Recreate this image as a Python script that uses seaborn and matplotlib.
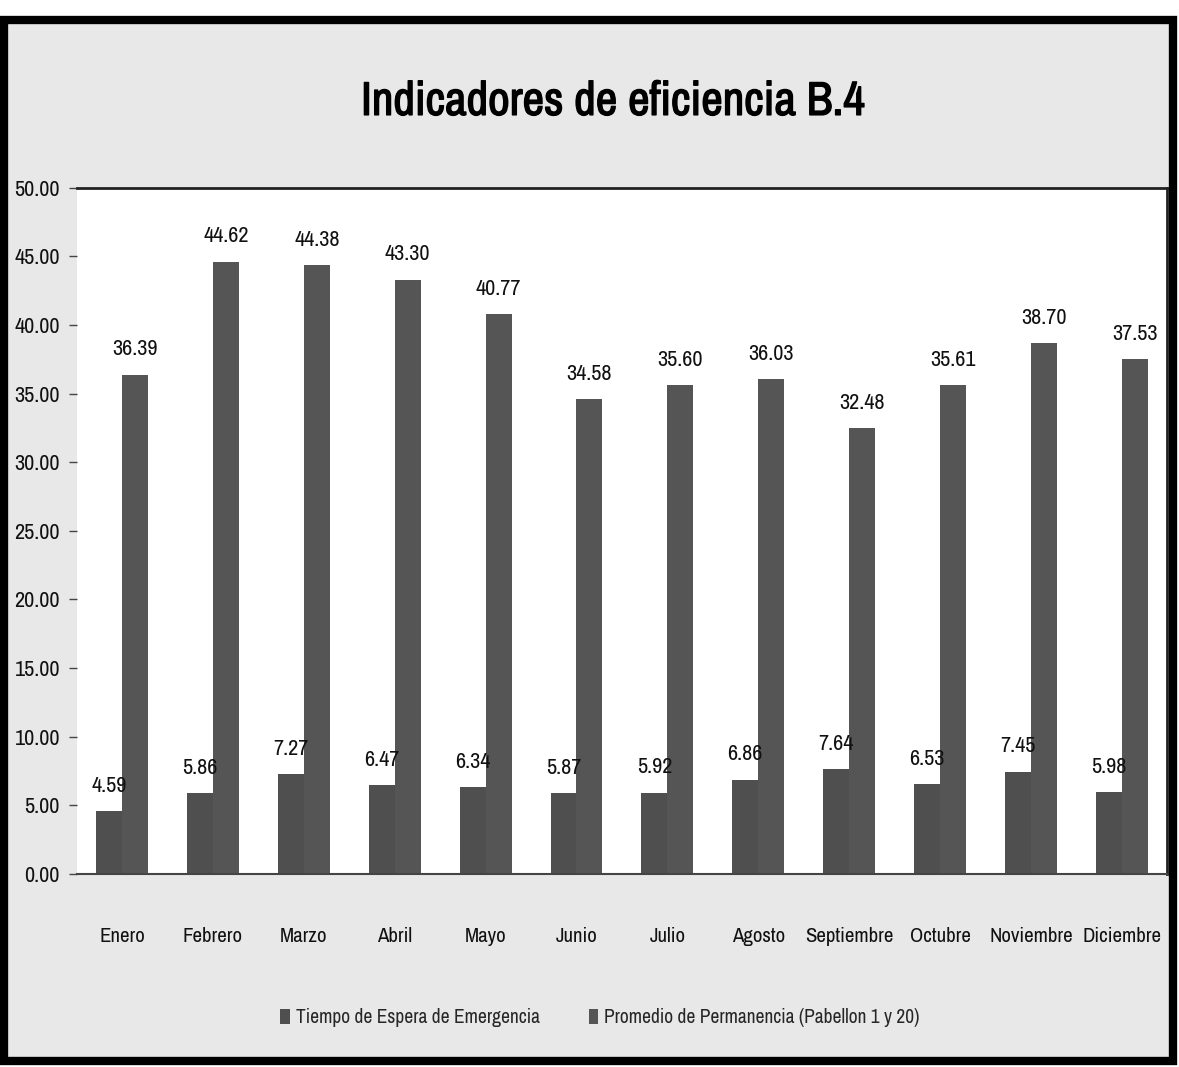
import numpy as np
import pandas as pd
import matplotlib
matplotlib.use("Agg")
import matplotlib.pyplot as plt
import matplotlib.patches as mpatches
import matplotlib.patheffects as pe
from matplotlib import font_manager
import seaborn as sns

meses = ["Enero", "Febrero", "Marzo", "Abril", "Mayo", "Junio", "Julio",
         "Agosto", "Septiembre", "Octubre", "Noviembre", "Diciembre"]
espera = [4.59, 5.86, 7.27, 6.47, 6.34, 5.87, 5.92, 6.86, 7.64, 6.53, 7.45, 5.98]
permanencia = [36.39, 44.62, 44.38, 43.30, 40.77, 34.58, 35.60, 36.03, 32.48, 35.61, 38.70, 37.53]
serie1 = "Tiempo de Espera de Emergencia"
serie2 = "Promedio de Permanencia (Pabellon 1 y 20)"

df = pd.DataFrame({"Mes": meses * 2,
                   "Valor": espera + permanencia,
                   "Serie": [serie1] * 12 + [serie2] * 12})

sns.set_style("white")
# buscar una fuente angosta parecida a la del original
nombres = sorted(set(f.name for f in font_manager.fontManager.ttflist))
angosta = [n for n in nombres if "Narrow" in n or "Condensed" in n]
plt.rcParams['font.family'] = angosta[:1] + ['DejaVu Sans']
plt.rcParams['font.stretch'] = 'condensed'

fig = plt.figure(figsize=(11.79, 10.67), dpi=100, facecolor="white")
# marco gris con borde negro
fig.patches.append(mpatches.Rectangle((0.003, 0.006), 0.992, 0.975, transform=fig.transFigure,
                                      facecolor="#e8e8e8", edgecolor="black", linewidth=6, zorder=-5))
ax = fig.add_axes([0.065, 0.181, 0.925, 0.643])
ax.set_zorder(2)
ax.set_facecolor("white")

sns.barplot(data=df, x="Mes", y="Valor", hue="Serie", palette=["#4f4f4f", "#555555"],
            width=0.57, gap=0, ax=ax, saturation=1, legend=True, linewidth=0)

for cont in ax.containers:
    for bar in cont:
        h = bar.get_height()
        ax.annotate(f"{h:.2f}", (bar.get_x() + bar.get_width() / 2, h),
                    xytext=(0, 11), textcoords="offset points", ha="center", va="bottom",
                    fontsize=16, color="#111111")

ax.set_ylim(0, 50)
ax.set_yticks(np.arange(0, 51, 5))
ax.set_yticklabels([f"{v:.2f}" for v in np.arange(0, 51, 5)], fontsize=16, color="#111111")
ax.set_xlim(-0.5, 11.5)
ax.set_xticks(range(12))
ax.set_xticklabels(meses, fontsize=15, color="#111111")
ax.set_xticks(np.arange(0.5, 11, 1), minor=True)
ax.tick_params(axis="x", which="major", length=0, pad=38)
ax.tick_params(axis="x", which="minor", length=14, width=1, color="#444444", direction="out")
ax.tick_params(axis="y", length=6, width=1, color="#444444", left=True, pad=6)
ax.set_xlabel("")
ax.set_ylabel("")

ax.spines["left"].set_visible(False)
ax.spines["bottom"].set_color("#444444")
ax.spines["bottom"].set_linewidth(1.5)
ax.spines["top"].set_color("#222222")
ax.spines["top"].set_linewidth(2)
ax.spines["right"].set_color("#222222")
ax.spines["right"].set_linewidth(2)

ax.legend(loc="upper center", bbox_to_anchor=(0.48, -0.17), ncol=2, frameon=False,
          fontsize=14, handlelength=0.5, handleheight=0.8, columnspacing=2.5, handletextpad=0.3)

titulo = fig.text(0.52, 0.905, "Indicadores de eficiencia B.4", ha="center", va="center",
                  fontsize=34, fontweight="bold", color="black")
titulo.set_path_effects([pe.withStroke(linewidth=1.0, foreground="black")])

plt.savefig("out.png", dpi=100, facecolor=fig.get_facecolor())
